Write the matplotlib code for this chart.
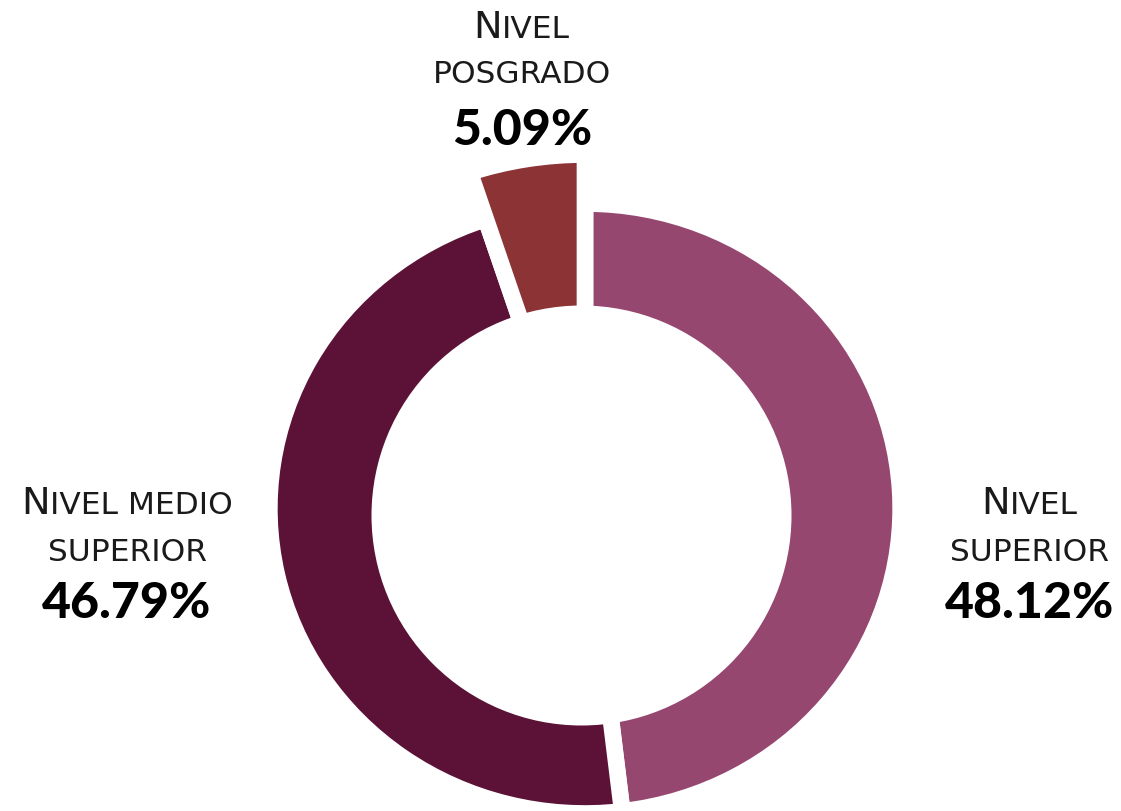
import matplotlib
matplotlib.use("Agg")
import matplotlib.pyplot as plt
from matplotlib.patches import Ellipse
from matplotlib.transforms import IdentityTransform

labels = ["Nivel superior", "Nivel medio superior", "Nivel posgrado"]
label_lines = [["Nivel", "superior"], ["Nivel medio", "superior"], ["Nivel", "posgrado"]]
values = [48.12, 46.79, 5.09]
pct_text = ["48.12%", "46.79%", "5.09%"]
colors = ["#96476f", "#5c1236", "#8b3335"]

W, H = 1121, 812
SX = 1.035  # slight horizontal stretch of the ring seen in the reference
fig = plt.figure(figsize=(W / 100, H / 100), dpi=100)
ax = fig.add_axes([0, 0, 1, 1])

cx_px, cy_px = 585, 509.5
R = 305
wedges, _ = ax.pie(values, colors=colors, startangle=90, counterclock=False,
                   center=(cx_px / SX, H - cy_px), radius=R, frame=True,
                   wedgeprops=dict(edgecolor="white", linewidth=12))
# posgrado slice drawn with a larger outer radius
wedges[2].set_radius(354)
# donut hole
hole_r = 210
ax.add_patch(Ellipse((581.5 / SX, H - 516.5), 2 * hole_r / SX, 2 * hole_r,
                     facecolor="white", edgecolor="none", zorder=5))
ax.set_aspect("auto")
ax.set_xlim(0, W / SX)
ax.set_ylim(0, H)
ax.axis("off")

FONT = "DejaVu Sans"
renderer = fig.canvas.get_renderer()
ident = IdentityTransform()


def smallcaps(xc, y_px, text, big=27.5, small=22.5):
    merged = []
    for ch in text:
        s = big if ch.isupper() else small
        c = ch.upper()
        if merged and merged[-1][1] == s:
            merged[-1][0] += c
        else:
            merged.append([c, s])
    widths = []
    for t, s in merged:
        tt = fig.text(0, 0, t, fontsize=s, family=FONT)
        widths.append(tt.get_window_extent(renderer).width)
        tt.remove()
    x = xc - sum(widths) / 2
    y = H - y_px
    for (t, s), w in zip(merged, widths):
        fig.text(x, y, t, fontsize=s, family=FONT, color="#1a1a1a",
                 ha="left", va="baseline", transform=ident)
        x += w


positions = [(1030, [514, 561, 618]), (127, [514, 561, 618]), (522, [38, 83, 145])]
for lines, pct, (xc, ys) in zip(label_lines, pct_text, positions):
    smallcaps(xc, ys[0], lines[0])
    smallcaps(xc, ys[1], lines[1])
    fig.text(xc, H - ys[2], pct, fontsize=36, family="Lato", fontweight="black",
             ha="center", va="baseline", color="black", transform=ident)

fig.savefig("out.png", dpi=100)
